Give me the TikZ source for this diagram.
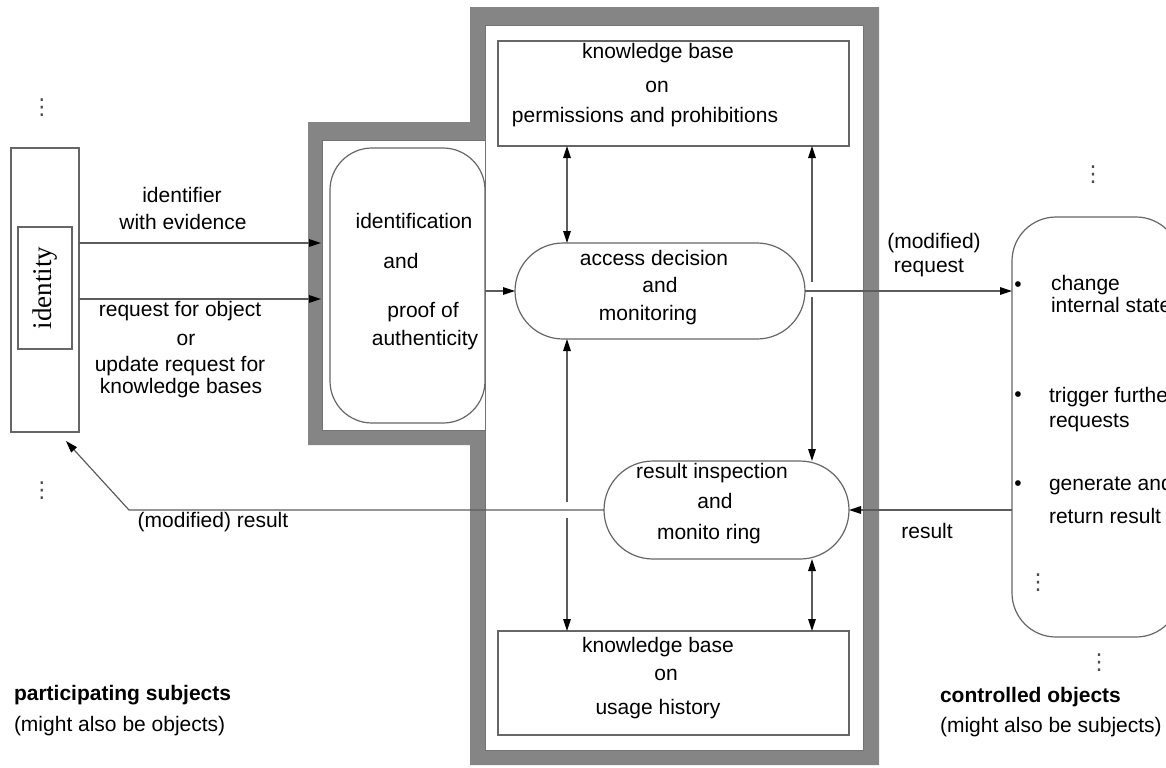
\documentclass[tikz,border=0pt]{standalone}
\usepackage{fontspec}
\setmainfont{Liberation Sans}
\newfontfamily\idfont{Liberation Serif}
\newfontfamily\symfont{DejaVu Sans}
\usetikzlibrary{arrows.meta}
\definecolor{framegray}{HTML}{858585}
\definecolor{linegray}{HTML}{5C5C5C}
\begin{document}
\begin{tikzpicture}[x=0.5pt,y=-0.5pt,
  every node/.style={font=\fontsize{10.5}{12.6}\selectfont, inner sep=0pt, outer sep=0pt},
  conn/.style={draw=linegray, line width=0.6pt},
  arr/.style={conn, -{Triangle[length=6pt,width=3.8pt,color=black]}},
  darr/.style={conn, {Triangle[length=6pt,width=3.8pt,color=black]}-{Triangle[length=6pt,width=3.8pt,color=black]}},
  box/.style={rectangle, draw=black!60, line width=0.6pt, fill=white},
  rbox/.style={box},
  frameline/.style={draw=black!55, line width=0.5pt},
  dots/.style={font=\symfont\fontsize{11}{12}\selectfont, text=black!70},
  item/.style={anchor=west},
  caption/.style={anchor=west},
]
\useasboundingbox (0,0) rectangle (1166,767);
\clip (0,0) rectangle (1166,767);

% thick grey boundary of the reference monitor
\fill[framegray, even odd rule]
  (308,122) -- (470,122) -- (470,7) -- (879,7) -- (879,765) -- (470,765) -- (470,445) -- (308,445) -- cycle
  (322,140) -- (485,140) -- (485,25) -- (863,25) -- (863,750) -- (485,750) -- (485,430) -- (322,430) -- cycle;
\draw[frameline] (322,140) rectangle (485,430);
\draw[frameline] (485,25) rectangle (863,750);

% participating subject
\node[box, minimum width=34pt, minimum height=142pt] (subj) at (45,290) {};
\node[box, rotate=90, minimum width=61pt, minimum height=27pt,
      font=\idfont\fontsize{13.5}{16}\selectfont] (ident) at (45,288) {identity};
\node[dots] (sdots1) at (42,108) {⋮};
\node[dots] (sdots2) at (42,491) {⋮};

% components of the monitor
\node[rbox, minimum width=77.5pt, minimum height=137.5pt, rounded corners=21pt] (idproc) at (407.5,285.5) {};
\node[rbox, minimum width=145pt, minimum height=48pt, rounded corners=24pt] (acc) at (660,291) {};
\node[rbox, minimum width=122.5pt, minimum height=49pt, rounded corners=24.5pt] (res) at (726.5,510) {};
\node[box, minimum width=175.5pt, minimum height=52.5pt] (kbp) at (673.5,93.5) {};
\node[box, minimum width=175.5pt, minimum height=52pt] (kbh) at (673.5,683) {};

% controlled object
\node[rbox, minimum width=84pt, minimum height=210pt, rounded corners=22pt] (obj) at (1096,427) {};
\node[dots] (odots1) at (1093,175) {⋮};
\node[dots] (odots2) at (1038,583) {⋮};
\node[dots] (odots3) at (1099,663) {⋮};

% texts inside the components
\node (t-id1) at (414,221) {identification};
\node (t-id2) at (401,261) {and};
\node (t-id3) at (423,312) {proof of};
\node (t-id4) at (425,340) {authenticity};

\node (t-acc1) at (654,258) {access decision};
\node (t-acc2) at (660,285) {and};
\node (t-acc3) at (648,315) {monitoring};

\node (t-res1) at (712,473) {result inspection};
\node (t-res2) at (715,501) {and};
\node (t-res3) at (709,534) {monito ring};

\node (t-kbp1) at (658,53) {knowledge base};
\node (t-kbp2) at (657,87) {on};
\node (t-kbp3) at (645,117) {permissions and prohibitions};

\node (t-kbh1) at (658,647) {knowledge base};
\node (t-kbh2) at (666,675) {on};
\node (t-kbh3) at (658,709) {usage history};

% items of the controlled object
\node (b1) at (1018,287) {•};
\node[item] (t-o1) at (1051,285) {change};
\node[item] (t-o2) at (1051,305) {internal state};
\node (b2) at (1018,397) {•};
\node[item] (t-o3) at (1049,397) {trigger further};
\node[item] (t-o4) at (1049,423) {requests};
\node (b3) at (1018,486) {•};
\node[item] (t-o5) at (1049,485) {generate and};
\node[item] (t-o6) at (1049,516) {return result};

% connectors
\coordinate (in1) at (321,243);
\coordinate (in2) at (321,299);
\coordinate (xa) at (567,0);
\coordinate (xb) at (812,0);
\coordinate (bend) at (129,510);
\coordinate (back) at (66,441);

\draw[arr] (subj.east |- in1) -- (in1);
\draw[arr] (subj.east |- in2) -- (in2);
\draw[arr] (idproc.east |- acc.west) -- (acc.west);

\draw[darr] (kbp.south -| xa) -- (acc.north -| xa);
\draw[darr] (acc.south -| xa) -- (kbh.north -| xa);
\draw[darr] (kbp.south -| xb) -- (res.north -| xb);
\draw[darr] (res.south -| xb) -- (kbh.north -| xb);

% breaks where the horizontal flows pass the vertical links
\fill[white] (807,282) rectangle (817,297);
\fill[white] (562,502) rectangle (572,518);

\draw[arr] (acc.east) -- (obj.west |- acc.east);
\draw[arr] (obj.west |- res.east) -- (res.east);
\draw[arr] (res.west) -- (bend) -- (back);

% flow labels
\node (l-id1) at (182,195) {identifier};
\node (l-id2) at (183,222) {with evidence};
\node (l-rq1) at (180,311) {request for object};
\node (l-rq2) at (186,340) {or};
\node (l-rq3) at (180,366) {update request for};
\node (l-rq4) at (181,388) {knowledge bases};
\node (l-mr1) at (934,243) {(modified)};
\node (l-mr2) at (929,268) {request};
\node (l-res) at (927,531) {result};
\node (l-mres) at (213,522) {(modified) result};

% captions
\node[caption, font=\bfseries\fontsize{10.5}{12.6}\selectfont] (c-s1) at (14,695) {participating subjects};
\node[caption] (c-s2) at (14,726) {(might also be objects)};
\node[caption, font=\bfseries\fontsize{10.5}{12.6}\selectfont] (c-o1) at (940,697) {controlled objects};
\node[caption] (c-o2) at (940,727) {(might also be subjects)};
\end{tikzpicture}
\end{document}
